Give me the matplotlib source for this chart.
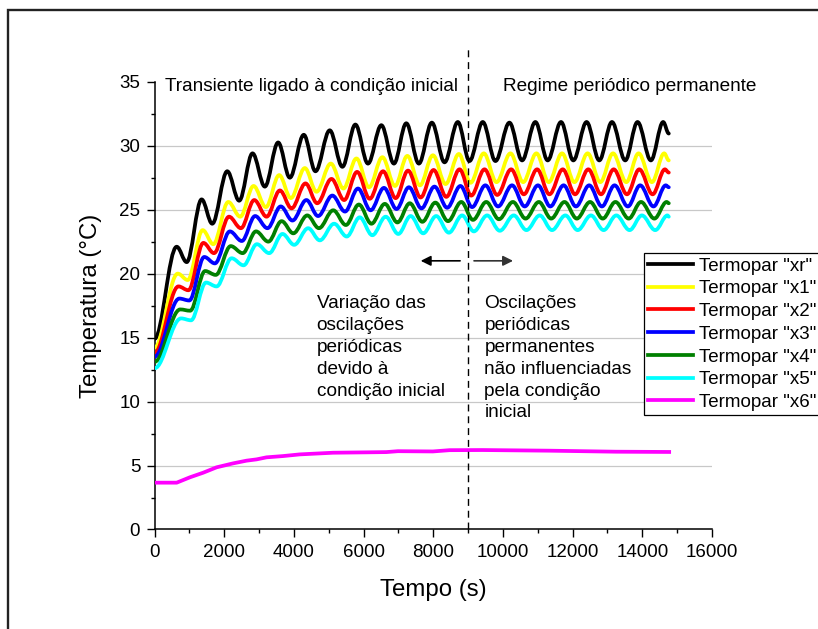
import numpy as np
import matplotlib
matplotlib.use("Agg")
from matplotlib import pyplot as plt
from matplotlib.path import Path
from matplotlib.patches import PathPatch, Rectangle
from matplotlib.lines import Line2D
from matplotlib.ticker import MultipleLocator

plt.rcParams['font.family'] = ['Liberation Sans', 'DejaVu Sans']

# instantes dos máximos/mínimos das oscilações (s), tomados no termopar "xr"
t_ext = [0, 636, 923, 1352, 1657, 2087, 2430, 2813, 3166, 3548, 3883, 4284, 4619,
         5029, 5392, 5765, 6126, 6510, 6871, 7226, 7587, 7960, 8324, 8705, 9040,
         9421, 9785, 10186, 10550, 10931, 11284, 11667, 12020, 12401, 12765, 13129,
         13510, 13863, 14246, 14599, 14760]

# temperaturas (°C) nesses extremos
T_xr = [14.9, 22.1, 20.9, 25.8, 23.9, 28.0, 25.7, 29.4, 26.8, 30.25, 27.5, 30.85, 28.0,
        31.2, 28.35, 31.65, 28.6, 31.6, 28.6, 31.75, 28.6, 31.8, 28.7, 31.85, 28.8,
        31.85, 28.8, 31.8, 28.85, 31.85, 28.85, 31.85, 28.85, 31.85, 28.85, 31.85,
        28.85, 31.85, 28.85, 31.85, 30.95]
T_x1 = [14.2, 20.0, 19.5, 23.4, 22.3, 25.6, 24.45, 26.85, 25.2, 27.7, 25.9, 28.25, 26.4,
        28.6, 26.65, 29.0, 26.75, 29.1, 26.85, 29.2, 26.9, 29.25, 27.0, 29.35, 27.1,
        29.4, 27.15, 29.4, 27.15, 29.4, 27.15, 29.4, 27.15, 29.4, 27.15, 29.4,
        27.15, 29.4, 27.15, 29.4, 28.85]
T_x2 = [13.8, 19.0, 18.7, 22.4, 21.6, 24.45, 23.55, 25.75, 24.45, 26.5, 25.1, 27.05, 25.5,
        27.4, 25.75, 27.95, 25.85, 28.0, 25.9, 28.05, 25.95, 28.1, 26.0, 28.15, 26.1,
        28.15, 26.15, 28.15, 26.2, 28.15, 26.2, 28.15, 26.2, 28.15, 26.2, 28.15,
        26.2, 28.15, 26.2, 28.15, 27.9]
T_x3 = [13.5, 18.05, 17.9, 21.3, 20.8, 23.3, 22.55, 24.5, 23.55, 25.25, 24.15, 25.75, 24.5,
        26.1, 24.85, 26.65, 24.95, 26.7, 25.05, 26.75, 25.1, 26.8, 25.15, 26.85, 25.2,
        26.9, 25.25, 26.9, 25.25, 26.9, 25.25, 26.9, 25.25, 26.9, 25.25, 26.9,
        25.25, 26.9, 25.25, 26.9, 26.75]
T_x4 = [13.1, 17.2, 17.1, 20.2, 19.9, 22.15, 21.6, 23.3, 22.5, 24.1, 23.15, 24.55, 23.55,
        24.95, 23.8, 25.4, 23.9, 25.45, 24.0, 25.5, 24.05, 25.55, 24.1, 25.6, 24.2,
        25.6, 24.25, 25.6, 24.3, 25.6, 24.3, 25.6, 24.3, 25.6, 24.3, 25.6,
        24.3, 25.6, 24.3, 25.6, 25.5]
T_x5 = [12.6, 16.5, 16.35, 19.3, 19.0, 21.2, 20.65, 22.3, 21.6, 23.1, 22.25, 23.55, 22.6,
        23.9, 22.9, 24.4, 23.0, 24.45, 23.1, 24.5, 23.15, 24.5, 23.2, 24.55, 23.3,
        24.55, 23.35, 24.55, 23.4, 24.55, 23.4, 24.55, 23.4, 24.55, 23.4, 24.55,
        23.4, 24.55, 23.4, 24.55, 24.45]

# atraso de fase de cada termopar em relação ao "xr" (s)
atraso = [0, 30, 50, 75, 100, 125]

# termopar "x6": quase sem oscilação
t_x6 = [0, 636, 1017, 1398, 1782, 2258, 2642, 2928, 3215, 3692, 4169, 5123, 6080,
        6653, 6986, 7989, 8467, 9421, 11332, 13243, 14771]
T_x6 = [3.66, 3.66, 4.08, 4.44, 4.86, 5.17, 5.38, 5.48, 5.64, 5.74, 5.87, 6.0, 6.03,
        6.05, 6.12, 6.1, 6.2, 6.21, 6.16, 6.08, 6.06]

nomes = ['Termopar "xr"', 'Termopar "x1"', 'Termopar "x2"', 'Termopar "x3"',
         'Termopar "x4"', 'Termopar "x5"', 'Termopar "x6"']
cores = ['black', '#ffff00', '#ff0000', '#0000ff', '#008000', '#00ffff', '#ff00ff']

t_regime = 9000  # fim do transiente


def curva_suave(t, y, k=0.36):
    # liga os extremos com curvas de Bezier de tangente horizontal
    verts = [(t[0], y[0])]
    codes = [Path.MOVETO]
    for i in range(len(t) - 1):
        dt = t[i + 1] - t[i]
        verts += [(t[i] + k * dt, y[i]), (t[i + 1] - k * dt, y[i + 1]), (t[i + 1], y[i + 1])]
        codes += [Path.CURVE4] * 3
    return Path(verts, codes)


fig = plt.figure(figsize=(8.18, 6.29), dpi=100)
ax = fig.add_axes([0.1889, 0.1582, 0.8704 - 0.1889, 0.8701 - 0.1582])

# moldura exterior
fig.patches.append(Rectangle((8 / 818, -0.05), 1.1, 1 - 9.5 / 629 + 0.05, transform=fig.transFigure,
                             fill=False, edgecolor='#222222', lw=1.7, zorder=0))

# linhas de grade horizontais
for yv in np.arange(5, 35, 5):
    ax.axhline(yv, color='#c8c8c8', lw=0.9, zorder=0)

series = [T_xr, T_x1, T_x2, T_x3, T_x4, T_x5]
for T, cor, lag in zip(series, cores, atraso):
    tt = [t_ext[0]] + [v + lag for v in t_ext[1:-1]] + [t_ext[-1]]
    ax.add_patch(PathPatch(curva_suave(tt, T), fill=False, edgecolor=cor, lw=2.7,
                           capstyle='round', joinstyle='round', zorder=3))
ax.plot(t_x6, T_x6, color=cores[6], lw=2.7, zorder=3, solid_joinstyle='round')

# separação transiente / regime periódico
ax.axvline(t_regime, ymin=0, ymax=37.7 / 35, color='black', lw=1.0, ls=(0, (5, 3.5)),
           clip_on=False, zorder=4)

ax.text(300, 34.65, 'Transiente ligado à condição inicial', fontsize=13.7, va='center', ha='left')
ax.text(10000, 34.65, 'Regime periódico permanente', fontsize=13.7, va='center', ha='left')

ax.annotate('', xy=(7560, 21), xytext=(8850, 21),
            arrowprops=dict(arrowstyle='-|>', color='black', lw=1.2, mutation_scale=15))
ax.annotate('', xy=(10370, 21), xytext=(9090, 21),
            arrowprops=dict(arrowstyle='-|>', color='#333333', lw=1.2, mutation_scale=15))

ax.text(4650, 18.3, 'Variação das\noscilações\nperiódicas\ndevido à\ncondição inicial',
        fontsize=13.7, va='top', ha='left', linespacing=1.37)
ax.text(9470, 18.3, 'Oscilações\nperiódicas\npermanentes\nnão influenciadas\npela condição\ninicial',
        fontsize=13.7, va='top', ha='left', linespacing=1.37)

ax.set_xlim(0, 16000)
ax.set_ylim(0, 35)
ax.xaxis.set_major_locator(MultipleLocator(2000))
ax.xaxis.set_minor_locator(MultipleLocator(1000))
ax.yaxis.set_major_locator(MultipleLocator(5))
ax.yaxis.set_minor_locator(MultipleLocator(2.5))
ax.tick_params(which='major', length=5.8, width=1.0, labelsize=13.5, pad=4.5)
ax.tick_params(which='minor', length=3.2, width=1.0)
for s in ['top', 'right']:
    ax.spines[s].set_visible(False)
for s in ['left', 'bottom']:
    ax.spines[s].set_linewidth(1.1)

ax.set_xlabel('Tempo (s)', fontsize=17.3, labelpad=13)
ax.set_ylabel('Temperatura (°C)', fontsize=17.3, labelpad=12.6)

handles = [Line2D([], [], color=c, lw=2.7) for c in cores]
fig.legend(handles, nomes, loc='upper left', bbox_to_anchor=(644 / 818, 1 - 253.3 / 629),
           bbox_transform=fig.transFigure, borderaxespad=0, fontsize=13.5, frameon=True,
           fancybox=False, edgecolor='black', framealpha=1, borderpad=0.22,
           handlelength=2.4, handletextpad=0.3, labelspacing=0.3)
fig.legends[0].get_frame().set_linewidth(0.9)

plt.savefig('out.png', dpi=100)
